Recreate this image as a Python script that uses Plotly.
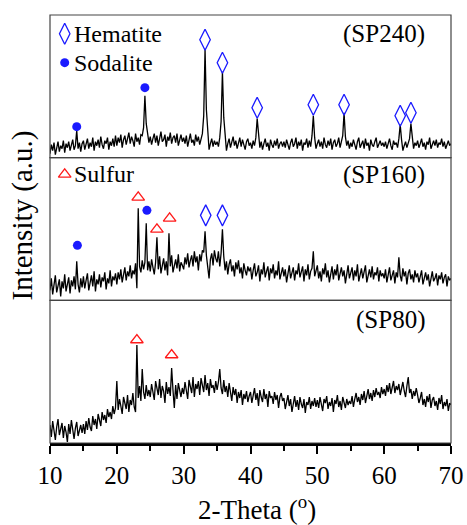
import numpy as np
import plotly.graph_objects as go

# 2-Theta grid (degrees), 0.2 step from 10 to 70
two_theta = np.round(10 + 0.2 * np.arange(301), 2)

# Intensities (a.u.), one value per grid point
sp240 = [
    4, 13, 7, 15, 3, 11, 16, 6, 12, 9, 17, 5, 14, 10, 16, 7, 13, 18, 8, 12, 27, 9, 15, 6, 14,
    17, 8, 14, 19, 9, 15, 11, 20, 7, 16, 12, 18, 10, 21, 13, 9, 17, 14, 20, 8, 16, 12, 19, 11, 22,
    12, 20, 15, 23, 10, 18, 22, 13, 19, 25, 14, 21, 17, 11, 24, 16, 20, 13, 23, 22, 30, 62, 34, 22, 15,
    21, 13, 19, 24, 15, 22, 12, 20, 26, 16, 18, 23, 11, 21, 17, 25, 14, 20, 22, 15, 24, 12, 19, 23, 16,
    20, 14, 22, 11, 19, 24, 15, 18, 12, 23, 16, 21, 13, 19, 24, 42, 109, 48, 22, 8, 14, 19, 11, 17, 13,
    16, 11, 20, 36, 86, 40, 18, 7, 14, 19, 10, 16, 21, 12, 17, 9, 15, 20, 11, 18, 13, 8, 16, 19, 12,
    15, 9, 17, 12, 20, 39, 21, 10, 16, 8, 14, 19, 11, 15, 7, 18, 13, 10, 17, 12, 19, 9, 14, 16, 11,
    16, 10, 18, 13, 8, 15, 19, 11, 14, 20, 9, 16, 12, 18, 7, 15, 13, 19, 10, 17, 11, 22, 42, 20, 9,
    14, 18, 11, 16, 9, 20, 13, 10, 17, 12, 19, 8, 15, 18, 11, 14, 20, 10, 16, 22, 45, 21, 12, 17, 9,
    15, 11, 18, 13, 8, 16, 20, 10, 14, 17, 9, 19, 12, 15, 7, 18, 13, 11, 16, 20, 10, 14, 17, 12, 15,
    11, 16, 9, 14, 19, 12, 8, 17, 13, 15, 10, 19, 33, 18, 7, 12, 16, 10, 14, 19, 34, 20, 9, 15, 12,
    17, 10, 14, 19, 11, 15, 8, 16, 13, 20, 9, 14, 17, 12, 18, 10, 15, 13, 19, 11, 16, 9, 14, 17, 12,
    14,
]
sp160 = [
    10, 22, 6, 18, 25, 8, 15, 21, 4, 19, 12, 26, 9, 17, 23, 7, 20, 14, 24, 11, 39, 16, 8, 22, 13,
    24, 12, 20, 27, 10, 18, 25, 14, 29, 9, 21, 16, 26, 13, 23, 19, 28, 11, 22, 17, 30, 14, 24, 20, 27,
    16, 28, 21, 31, 18, 25, 33, 20, 29, 24, 35, 22, 30, 26, 37, 12, 92, 34, 28, 40, 31, 38, 77, 30, 39,
    29, 41, 33, 26, 38, 63, 31, 44, 27, 36, 42, 30, 39, 25, 67, 34, 45, 28, 37, 41, 32, 46, 29, 38, 35,
    31, 43, 36, 47, 33, 40, 45, 34, 49, 38, 44, 30, 46, 39, 50, 48, 69, 45, 36, 22, 41, 47, 35, 50, 42,
    38, 49, 34, 47, 71, 44, 30, 39, 26, 36, 41, 29, 35, 24, 38, 31, 40, 27, 33, 22, 37, 30, 25, 34, 29,
    33, 21, 30, 37, 24, 28, 35, 19, 31, 26, 38, 23, 29, 34, 20, 32, 27, 36, 22, 30, 25, 39, 21, 28, 33,
    24, 31, 18, 29, 35, 22, 27, 33, 20, 30, 26, 37, 23, 28, 34, 19, 31, 25, 36, 21, 29, 32, 49, 24, 30,
    35, 22, 29, 19, 32, 26, 37, 23, 30, 18, 28, 34, 21, 31, 25, 36, 20, 27, 33, 24, 30, 17, 29, 35, 22,
    28, 33, 20, 30, 24, 36, 19, 27, 32, 22, 29, 35, 18, 26, 31, 23, 34, 21, 28, 25, 33, 19, 30, 24, 27,
    22, 31, 18, 27, 33, 20, 26, 30, 17, 28, 23, 43, 25, 19, 32, 24, 29, 16, 27, 31, 21, 26, 18, 30, 23,
    27, 18, 25, 30, 16, 23, 28, 20, 26, 14, 24, 29, 19, 22, 27, 15, 25, 21, 28, 17, 23, 26, 14, 24, 20,
    22,
]
sp80 = [
    18, 6, 22, 10, 3, 16, 24, 8, 13, 20, 5, 17, 11, 1, 19, 9, 23, 12, 4, 15, 21, 7, 14, 18, 10,
    19, 9, 22, 13, 25, 16, 12, 27, 18, 24, 14, 29, 21, 17, 31, 23, 28, 20, 34, 26, 31, 24, 37, 29, 35,
    62, 33, 44, 37, 29, 46, 40, 34, 48, 31, 43, 38, 50, 36, 31, 98, 45, 57, 42, 74, 51, 44, 58, 47, 53,
    46, 59, 50, 43, 62, 54, 48, 64, 45, 57, 52, 40, 61, 49, 56, 47, 75, 53, 35, 58, 44, 60, 51, 46, 55,
    49, 61, 53, 44, 63, 57, 50, 66, 46, 59, 54, 62, 48, 65, 56, 51, 68, 53, 60, 47, 64, 55, 58, 50, 62,
    53, 61, 74, 55, 49, 63, 51, 57, 46, 60, 52, 42, 56, 48, 54, 40, 51, 45, 53, 38, 49, 44, 52, 41, 47,
    51, 40, 48, 55, 43, 50, 37, 53, 46, 41, 54, 44, 49, 36, 52, 45, 47, 39, 51, 43, 48, 35, 46, 50, 42,
    45, 34, 42, 48, 37, 44, 31, 41, 47, 36, 43, 33, 46, 39, 35, 44, 30, 41, 38, 46, 34, 42, 37, 45, 36,
    43, 35, 46, 38, 32, 44, 40, 47, 34, 41, 37, 45, 31, 43, 39, 48, 36, 42, 33, 46, 40, 35, 44, 38, 42,
    39, 47, 36, 44, 50, 41, 46, 38, 49, 43, 52, 40, 47, 54, 44, 50, 42, 53, 46, 55, 48, 51, 45, 56, 49,
    54, 47, 58, 51, 60, 49, 56, 62, 50, 57, 53, 59, 48, 55, 61, 52, 46, 57, 66, 50, 54, 44, 52, 47, 55,
    48, 40, 45, 51, 38, 44, 36, 47, 41, 49, 35, 43, 46, 37, 42, 33, 45, 39, 48, 34, 41, 37, 44, 32, 40,
    38,
]

# Phase markers (2-Theta, marker height) per pattern
hem_240_x = [33.2, 35.8, 41.0, 49.4, 54.0, 62.4, 64.0]
hem_240_y = [118, 95, 50, 53, 53, 42, 45]
sod_240_x = [14.0, 24.2]
sod_240_y = [31, 70]
hem_160_x = [33.3, 35.8]
hem_160_y = [85, 85]
sod_160_x = [14.1, 24.5]
sod_160_y = [55, 90]
sul_160_x = [23.2, 26.0, 27.9]
sul_160_y = [103, 71, 82]
sul_80_x = [23.0, 28.2]
sul_80_y = [103, 88]

xticks = [10, 20, 30, 40, 50, 60, 70]
minor_ticks = [15, 25, 35, 45, 55, 65]
sample_labels = ["(SP240)", "(SP160)", "(SP80)"]

FONT = "Liberation Serif, Times New Roman, serif"
BLUE = "#1a1aff"
RED = "#ff1a1a"
H = 428 / 3  # panel height in value units (a.u.)

fig = go.Figure()
line = dict(color="black", width=1.3)
fig.add_trace(go.Scatter(x=two_theta, y=sp80, mode="lines", line=line, xaxis="x", yaxis="y"))
fig.add_trace(go.Scatter(x=two_theta, y=sp160, mode="lines", line=line, xaxis="x2", yaxis="y2"))
fig.add_trace(go.Scatter(x=two_theta, y=sp240, mode="lines", line=line, xaxis="x3", yaxis="y3"))

diamond = dict(symbol="diamond-tall-open", size=15, color=BLUE, line=dict(width=1.3, color=BLUE))
circle = dict(symbol="circle", size=9, color=BLUE)
tri = dict(symbol="triangle-up-open", size=11, color=RED, line=dict(width=1.3, color=RED))

def mk(x, y, m, xa, ya):
    fig.add_trace(go.Scatter(x=x, y=y, mode="markers", marker=m, xaxis=xa, yaxis=ya, cliponaxis=False))

mk(hem_240_x, hem_240_y, diamond, "x3", "y3")
mk(sod_240_x, sod_240_y, circle, "x3", "y3")
mk(hem_160_x, hem_160_y, diamond, "x2", "y2")
mk(sod_160_x, sod_160_y, circle, "x2", "y2")
mk(sul_160_x, sul_160_y, tri, "x2", "y2")
mk(sul_80_x, sul_80_y, tri, "x", "y")

# legend symbols
mk([12.2], [124], diamond, "x3", "y3")
mk([12.2], [95], circle, "x3", "y3")
mk([12.2], [126], tri, "x2", "y2")

ann = []
def txt(x, y, s, xa, ya, anchor="left", size=24):
    ann.append(dict(x=x, y=y, xref=xa, yref=ya, text=s, showarrow=False,
                    xanchor=anchor, yanchor="middle", font=dict(family=FONT, size=size, color="black")))

txt(13.3, 124, "Hematite", "x3", "y3")
txt(13.3, 95, "Sodalite", "x3", "y3")
txt(13.3, 126, "Sulfur", "x2", "y2")
txt(66.4, 124, sample_labels[0], "x3", "y3", "right", 25)
txt(66.4, 125, sample_labels[1], "x2", "y2", "right", 25)
txt(66.4, 123, sample_labels[2], "x", "y", "right", 25)

ann.append(dict(x=0.515, y=-0.152, xref="paper", yref="paper", text="2-Theta (<sup>o</sup>)",
                showarrow=False, xanchor="center", yanchor="middle",
                font=dict(family=FONT, size=27, color="black")))
ann.append(dict(x=-0.068, y=0.531, xref="paper", yref="paper", text="Intensity (a.u.)",
                showarrow=False, textangle=-90, xanchor="center", yanchor="middle",
                font=dict(family=FONT, size=29, color="black")))

shapes = []
for d0, d1 in [(0, 1/3), (1/3, 2/3), (2/3, 1)]:
    shapes.append(dict(type="rect", xref="paper", yref="paper", x0=0, x1=1, y0=d0, y1=d1,
                       line=dict(color="#444", width=1.2), layer="above"))

yax = dict(range=[0, H], showticklabels=False, showgrid=False, zeroline=False, showline=False, ticks="")
hidden_x = dict(matches="x", visible=False, showgrid=False, zeroline=False)

fig.update_layout(
    width=467, height=525,
    margin=dict(l=50, r=16, t=15, b=82, autoexpand=False),
    paper_bgcolor="white", plot_bgcolor="white",
    showlegend=False,
    font=dict(family=FONT, size=25, color="black"),
    xaxis=dict(range=[10, 70], domain=[0, 1], anchor="y", tickvals=xticks, automargin=False,
               ticks="outside", ticklen=8, tickwidth=2, tickcolor="black",
               showline=True, linecolor="black", linewidth=2.5,
               showgrid=False, zeroline=False,
               tickfont=dict(family=FONT, size=25, color="black"),
               minor=dict(tickvals=minor_ticks, ticks="outside", ticklen=5,
                          tickwidth=2, tickcolor="black")),
    xaxis2=dict(hidden_x, anchor="y2", domain=[0, 1]),
    xaxis3=dict(hidden_x, anchor="y3", domain=[0, 1]),
    yaxis=dict(yax, domain=[0, 1/3], anchor="x"),
    yaxis2=dict(yax, domain=[1/3, 2/3], anchor="x2"),
    yaxis3=dict(yax, domain=[2/3, 1], anchor="x3"),
    annotations=ann,
    shapes=shapes,
)

fig.write_html("out.html", config={"displayModeBar": False},
               post_script="document.body.style.margin='0px';document.body.style.overflow='hidden';")
